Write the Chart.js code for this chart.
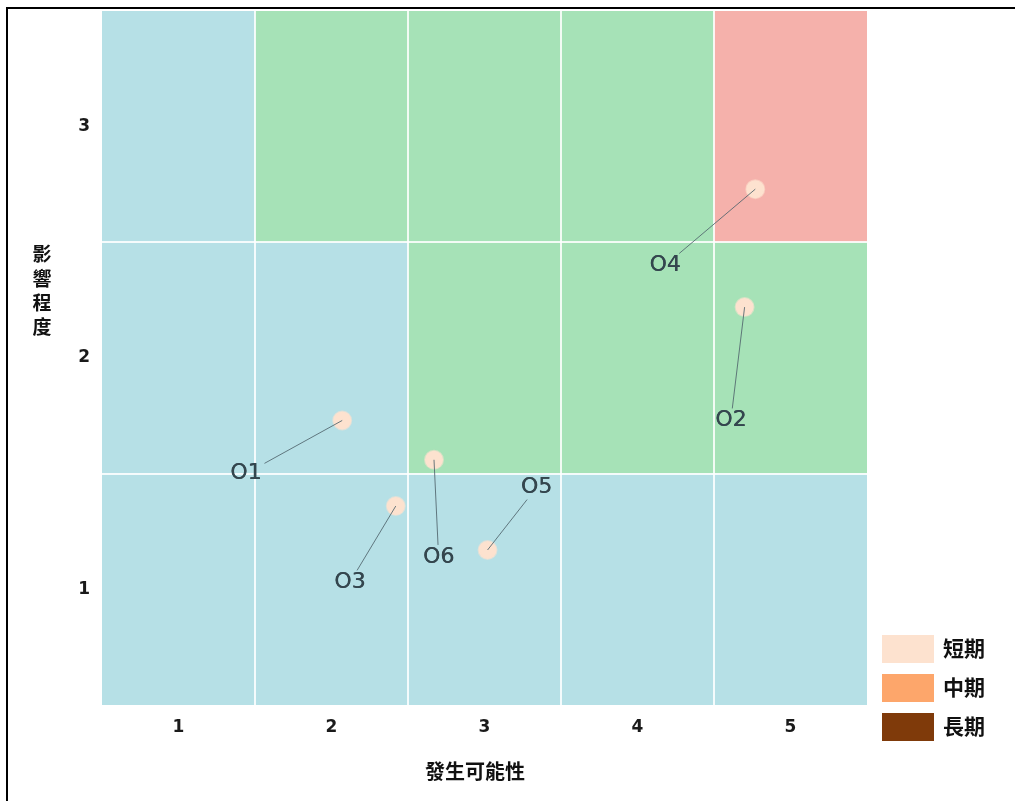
<!DOCTYPE html>
<html>
<head>
<meta charset="utf-8">
<script src="https://cdn.jsdelivr.net/npm/chart.js@4/dist/chart.umd.min.js"></script>
<style>
html,body{margin:0;padding:0;background:#fff;}
#wrap{position:absolute;left:0;top:0;width:1019px;height:801px;}
</style>
</head>
<body>
<div id="wrap"><canvas id="c" width="1019" height="801"></canvas></div>
<script>
// ---- data ----
const categories = ['O1', 'O2', 'O3', 'O4', 'O5', 'O6'];
const likelihood = [2.07, 4.70, 2.42, 4.77, 3.02, 2.67];   // 發生可能性
const impact     = [1.73, 2.22, 1.36, 2.73, 1.17, 1.56];   // 影響程度
const labelX     = [1.44, 4.61, 2.12, 4.18, 3.34, 2.70];   // label anchor (data units)
const labelY     = [1.50, 1.73, 1.03, 2.40, 1.44, 1.14];
const xTicks = [1, 2, 3, 4, 5];
const yTicks = [1, 2, 3];
const seriesNames = ['短期', '中期', '長期'];
const xTitle = '發生可能性';
const yTitle = '影響程度';
// risk zones: rows for impact 3, 2, 1; columns likelihood 1..5
const zoneRow3 = ['low', 'mid', 'mid', 'mid', 'high'];
const zoneRow2 = ['low', 'low', 'mid', 'mid', 'mid'];
const zoneRow1 = ['low', 'low', 'low', 'low', 'low'];

// ---- styles ----
const zoneColors = { low: '#b6e0e6', mid: '#a6e2b7', high: '#f5b1ab' };
const seriesColors = ['#fde2cf', '#fda66b', '#7f3a0a'];
const cjk = '"Noto Sans CJK TC", "Noto Sans CJK SC", sans-serif';
const latin = '"DejaVu Sans", Verdana, sans-serif';

const zones = [[3, zoneRow3], [2, zoneRow2], [1, zoneRow1]];

const points = likelihood.map((x, i) => ({ x: x, y: impact[i] }));

const bgPlugin = {
  id: 'bg',
  beforeDatasetsDraw(chart) {
    const ctx = chart.ctx, xs = chart.scales.x, ys = chart.scales.y;
    ctx.save();
    zones.forEach(([yv, row]) => {
      row.forEach((z, ci) => {
        const xv = xTicks[ci];
        const l = xs.getPixelForValue(xv - 0.5), r = xs.getPixelForValue(xv + 0.5);
        const t = ys.getPixelForValue(yv + 0.5), b = ys.getPixelForValue(yv - 0.5);
        ctx.fillStyle = zoneColors[z];
        ctx.fillRect(l, t, r - l, b - t);
      });
    });
    const a = chart.chartArea;
    ctx.strokeStyle = 'rgba(255,255,255,0.85)';
    ctx.lineWidth = 2;
    xTicks.slice(0, -1).forEach(v => {
      const p = Math.round(xs.getPixelForValue(v + 0.5));
      ctx.beginPath(); ctx.moveTo(p, a.top); ctx.lineTo(p, a.bottom); ctx.stroke();
    });
    yTicks.slice(0, -1).forEach(v => {
      const p = Math.round(ys.getPixelForValue(v + 0.5));
      ctx.beginPath(); ctx.moveTo(a.left, p); ctx.lineTo(a.right, p); ctx.stroke();
    });
    ctx.restore();
  },
  afterDatasetsDraw(chart) {
    const ctx = chart.ctx, xs = chart.scales.x, ys = chart.scales.y;
    ctx.save();
    ctx.font = '22px ' + latin;
    ctx.textAlign = 'center';
    ctx.textBaseline = 'middle';
    categories.forEach((name, i) => {
      const px = xs.getPixelForValue(likelihood[i]), py = ys.getPixelForValue(impact[i]);
      const lx = xs.getPixelForValue(labelX[i]), ly = ys.getPixelForValue(labelY[i]);
      const hw = ctx.measureText(name).width / 2 + 3, hh = 12;
      const dx = lx - px, dy = ly - py;
      const t = Math.max(dx ? 1 - hw / Math.abs(dx) : -1, dy ? 1 - hh / Math.abs(dy) : -1);
      ctx.strokeStyle = 'rgba(80,100,108,0.85)';
      ctx.lineWidth = 1;
      ctx.beginPath();
      ctx.moveTo(px, py);
      ctx.lineTo(px + dx * t, py + dy * t);
      ctx.stroke();
      ctx.fillStyle = '#34464e';
      ctx.fillText(name, lx, ly);
      ctx.fillText(name, lx + 0.4, ly);
    });
    ctx.restore();
  },
  afterDraw(chart) {
    const ctx = chart.ctx;
    ctx.save();
    // frame
    ctx.fillStyle = '#000';
    ctx.fillRect(6, 7, 2, 794);
    ctx.fillRect(6, 7, 1009, 2);
    // axis titles
    ctx.fillStyle = '#111';
    ctx.textAlign = 'center';
    ctx.textBaseline = 'middle';
    ctx.font = 'bold 20px ' + cjk;
    ctx.fillText(xTitle, 475, 771);
    ctx.font = 'bold 19px ' + cjk;
    Array.from(yTitle).forEach((ch, i) => ctx.fillText(ch, 42, 254 + i * 24.3));
    // legend
    ctx.font = 'bold 21px ' + cjk;
    ctx.textAlign = 'left';
    chart.data.datasets.forEach((ds, i) => {
      const top = 635 + i * 39;
      ctx.fillStyle = ds.backgroundColor;
      ctx.fillRect(882, top, 52, 28);
      ctx.fillStyle = '#111';
      ctx.fillText(ds.label, 943, top + 13);
    });
    ctx.restore();
  }
};

new Chart(document.getElementById('c'), {
  type: 'scatter',
  data: {
    datasets: seriesNames.map((name, i) => ({
      label: name,
      data: i === 0 ? points : [],
      backgroundColor: seriesColors[i],
      borderColor: 'rgba(253,226,207,0.55)',
      borderWidth: 2,
      pointRadius: 9,
      pointHoverRadius: 9
    }))
  },
  options: {
    responsive: false,
    animation: false,
    devicePixelRatio: 1,
    layout: { padding: { left: 0, top: 8, right: 152, bottom: 0 } },
    plugins: { legend: { display: false }, tooltip: { enabled: false } },
    scales: {
      x: {
        type: 'linear', min: 0.5, max: 5.5,
        afterBuildTicks: s => { s.ticks = xTicks.map(v => ({ value: v })); },
        afterFit: s => { s.height = 96; s.paddingLeft = 0; s.paddingRight = 0; },
        grid: { display: false, drawTicks: false },
        border: { display: false },
        ticks: { padding: 12, color: '#1a1a1a', font: { family: latin, weight: 'bold', size: 17 } }
      },
      y: {
        type: 'linear', min: 0.5, max: 3.5,
        afterBuildTicks: s => { s.ticks = yTicks.map(v => ({ value: v })); },
        afterFit: s => { s.width = 102; s.paddingTop = 0; s.paddingBottom = 0; },
        grid: { display: false, drawTicks: false },
        border: { display: false },
        ticks: { padding: 12, color: '#1a1a1a', font: { family: latin, weight: 'bold', size: 17 } }
      }
    }
  },
  plugins: [bgPlugin]
});
</script>
</body>
</html>
